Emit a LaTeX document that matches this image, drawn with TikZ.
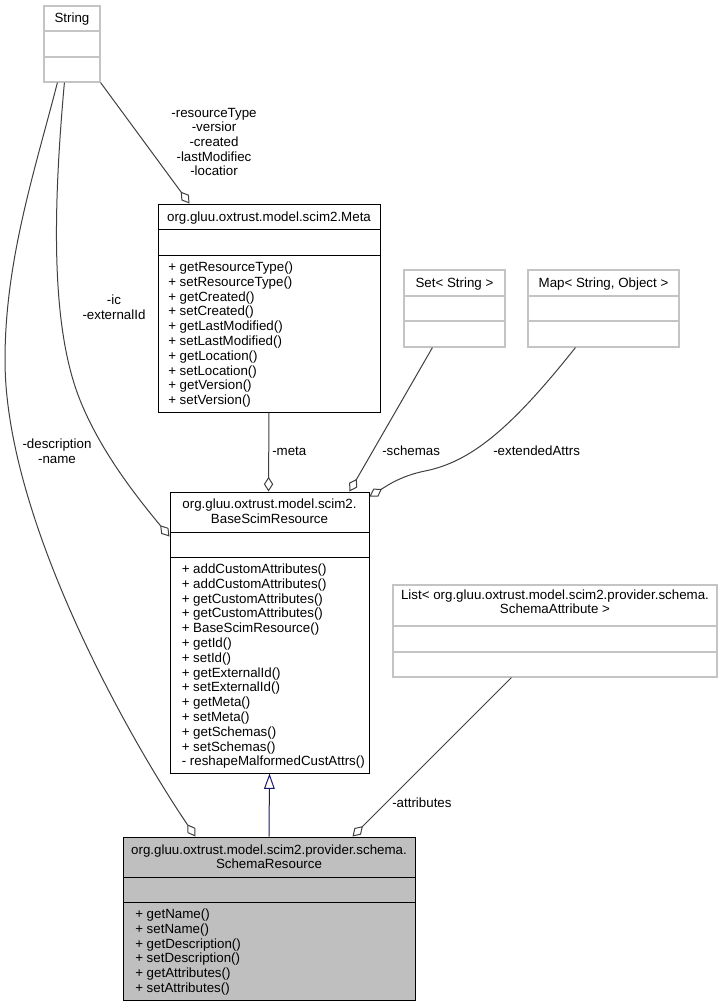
\documentclass[tikz,border=0pt]{standalone}
\usepackage{fontspec}
\setmainfont{Liberation Sans}
\usetikzlibrary{arrows.meta,fit,calc}

\definecolor{edgegray}{RGB}{64,64,64}
\definecolor{boxgray}{RGB}{191,191,191}
\definecolor{lightedge}{RGB}{196,196,196}
\definecolor{inhblue}{RGB}{25,25,112}

\tikzset{
  classbox/.style={draw=black, line width=0.75pt, inner sep=0pt, fill=white},
  extbox/.style={draw=lightedge, line width=0.9pt, inner sep=0pt, fill=white},
  sepline/.style={draw=black, line width=0.75pt},
  extsep/.style={draw=lightedge, line width=0.9pt},
  classtitle/.style={font=\fontsize{10}{11}\selectfont, anchor=base, inner sep=0pt},
  member/.style={font=\fontsize{10}{11}\selectfont, anchor=base west, inner sep=0pt},
  rolelabel/.style={font=\fontsize{10}{11}\selectfont, align=center, inner sep=0pt},
  assoc/.style={draw=edgegray, line width=0.75pt, -{Diamond[open,fill=white,length=11pt,width=7pt]}},
  inherit/.style={draw=inhblue, line width=0.75pt, -{Triangle[open,fill=white,length=11.5pt,width=8pt]}},
}

\begin{document}
\begin{tikzpicture}[x=0.75pt,y=-0.75pt]
\fill[white] (0,0) rectangle (724,1007);
\useasboundingbox (0,0) rectangle (724,1007);

% class boxes
\node[extbox, fit={(44,6) (100,82)}] (string) {};
\node[classbox, fit={(158,204) (380,412)}] (meta) {};
\node[extbox, fit={(404,270) (505,347)}] (set) {};
\node[extbox, fit={(528,270) (679,347)}] (map) {};
\node[classbox, fit={(170,492) (369,773)}] (base) {};
\node[extbox, fit={(393,585) (717,677)}] (list) {};
\node[classbox, fill=boxgray, fit={(123,837) (415,1000)}] (schema) {};

% compartments
\draw[extsep] (44,31) -- (100,31) (44,57) -- (100,57);
\draw[sepline] (158,229) -- (380,229) (158,255) -- (380,255);
\draw[extsep] (404,296) -- (505,296) (404,321) -- (505,321);
\draw[extsep] (528,296) -- (679,296) (528,321) -- (679,321);
\draw[sepline] (170,532) -- (369,532) (170,557) -- (369,557);
\draw[extsep] (393,626) -- (717,626) (393,652) -- (717,652);
\draw[sepline] (123,877) -- (415,877) (123,902) -- (415,902);

% titles
\node[classtitle] (stringT) at (72,22) {String};
\node[classtitle] (metaT) at (269,221) {org.gluu.oxtrust.model.scim2.Meta};
\node[classtitle] (setT) at (454.5,287) {Set< String >};
\node[classtitle] (mapT) at (603.5,287) {Map< String, Object >};
\node[classtitle] (baseT1) at (269.5,508.5) {org.gluu.oxtrust.model.scim2.};
\node[classtitle] (baseT2) at (269.5,523) {BaseScimResource};
\node[classtitle] (listT1) at (555,599) {List< org.gluu.oxtrust.model.scim2.provider.schema.};
\node[classtitle] (listT2) at (555,613.5) {SchemaAttribute >};
\node[classtitle] (schemaT1) at (269,854) {org.gluu.oxtrust.model.scim2.provider.schema.};
\node[classtitle] (schemaT2) at (269,868) {SchemaResource};

% members
\foreach \t [count=\i] in {+ getResourceType(), + setResourceType(), + getCreated(),
  + setCreated(), + getLastModified(), + setLastModified(), + getLocation(),
  + setLocation(), + getVersion(), + setVersion()}
  \node[member] (metaM\i) at (168, {271.5+14.8*(\i-1)}) {\t};
\foreach \t [count=\i] in {+ addCustomAttributes(), + addCustomAttributes(),
  + getCustomAttributes(), + getCustomAttributes(), + BaseScimResource(),
  + getId(), + setId(), + getExternalId(), + setExternalId(), + getMeta(),
  + setMeta(), + getSchemas(), + setSchemas(), - reshapeMalformedCustAttrs()}
  \node[member] (baseM\i) at (181.5, {573.5+14.8*(\i-1)}) {\t};
\foreach \t [count=\i] in {+ getName(), + setName(), + getDescription(),
  + setDescription(), + getAttributes(), + setAttributes()}
  \node[member] (schemaM\i) at (135, {918.5+14.8*(\i-1)}) {\t};

% attach points
\coordinate (strDesc) at ($(string.south west)+(14,0)$);
\coordinate (strId) at ($(string.south west)+(21,0)$);
\coordinate (strMeta) at (string.south east);
\coordinate (metaIn) at ($(meta.north west)+(32,0)$);
\coordinate (baseId) at ($(base.north west)+(0,45)$);
\coordinate (baseMeta) at ($(base.north west)+(99,0)$);
\coordinate (baseSch) at ($(base.north west)+(180,0)$);
\coordinate (baseExt) at ($(base.north east)+(0,5)$);
\coordinate (setOut) at ($(set.south west)+(29,0)$);
\coordinate (mapOut) at ($(map.south west)+(48,0)$);
\coordinate (listOut) at ($(list.south west)+(119,0)$);
\coordinate (schDesc) at ($(schema.north west)+(73,0)$);
\coordinate (schAttr) at ($(schema.north west)+(230,0)$);

% connectors
\draw[assoc] (strDesc) .. controls (35,170) and (5,260) .. (5,360)
  .. controls (5,520) and (130,740) .. (schDesc);
\draw[assoc] (strId) .. controls (52,220) and (52,330) .. (80,400)
  .. controls (100,450) and (135,495) .. (baseId);
\draw[assoc] (strMeta) -- (metaIn);
\draw[assoc] (meta.south) -- (baseMeta);
\draw[assoc] (setOut) -- (baseSch);
\draw[assoc] (mapOut) .. controls (510,430) and (470,462) .. (425,471)
  .. controls (400,476) and (385,487) .. (baseExt);
\draw[assoc] (listOut) -- (schAttr);
\draw[inherit] (schema.north) -- (base.south);

% role labels
\node[rolelabel] (lblMeta) at (214,142) {-resourceType\\-versior\\-created\\-lastModifiec\\-locatior};
\node[rolelabel] (lblId) at (114,307) {-ic\\-externalId};
\node[rolelabel] (lblDesc) at (57,451) {-description\\-name};
\node[rolelabel, anchor=west] (lblM) at (272,451) {-meta};
\node[rolelabel, anchor=west] (lblSch) at (382,451) {-schemas};
\node[rolelabel, anchor=west] (lblExt) at (493,451) {-extendedAttrs};
\node[rolelabel, anchor=west] (lblAttr) at (392,803) {-attributes};
\end{tikzpicture}
\end{document}
